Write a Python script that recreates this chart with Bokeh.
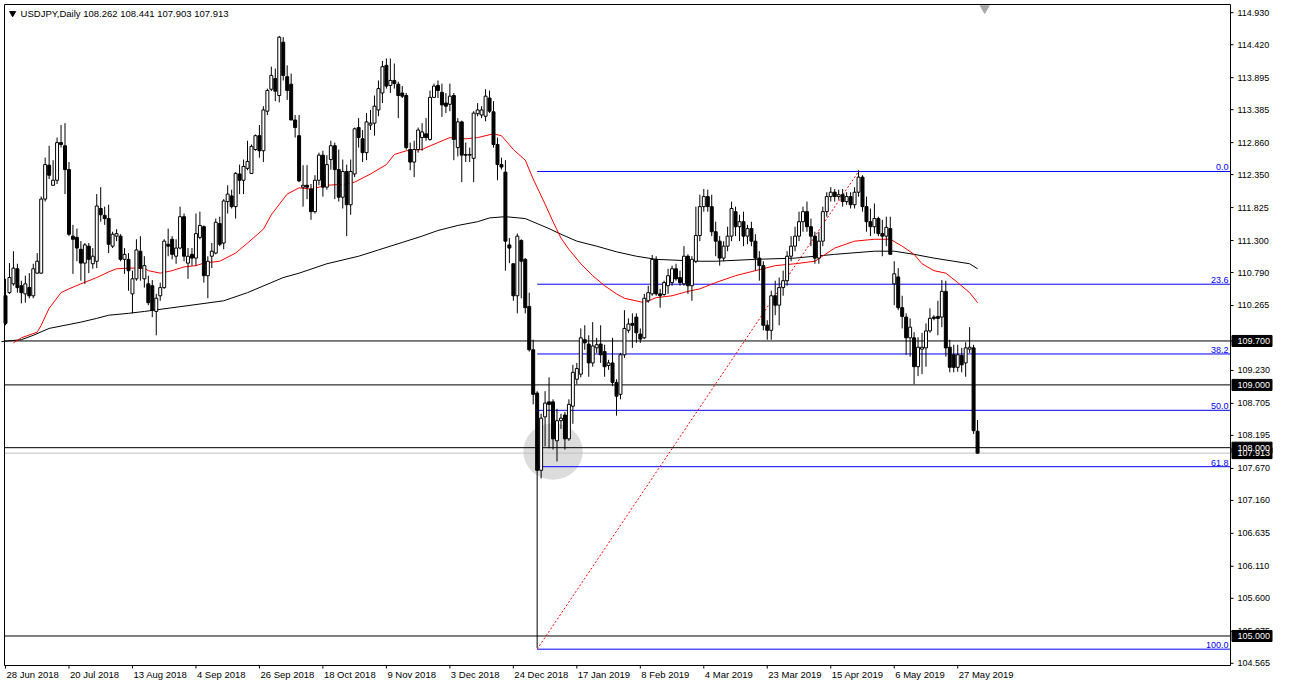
from bokeh.plotting import figure
from bokeh.models import Range1d
from bokeh.core.properties import value
from bokeh.embed import file_html
from bokeh.resources import INLINE

# ---------------- data (USDJPY daily) ----------------
opens = [
    110.42, 110.47, 110.61, 110.85, 110.58, 110.45, 110.55, 110.42, 110.78, 110.78,
    111.96, 112.50, 112.18, 112.26, 112.86, 112.81, 112.43, 111.37, 111.35, 111.16,
    110.94, 111.21, 110.93, 110.97, 111.81, 111.70, 111.65, 111.21, 111.37, 111.37,
    111.00, 111.00, 110.45, 110.69, 111.13, 110.69, 110.61, 110.58, 110.17, 110.42,
    110.55, 111.24, 111.32, 111.05, 111.18, 111.68, 110.94, 111.08, 111.02, 111.35,
    111.52, 110.74, 111.05, 111.10, 111.57, 111.26, 111.92, 112.01, 111.84, 112.36,
    112.26, 112.45, 112.37, 112.75, 112.97, 112.73, 113.36, 113.71, 113.88, 113.61,
    114.46, 113.91, 113.79, 113.22, 112.97, 112.15, 112.18, 112.12, 111.76, 112.26,
    112.66, 112.15, 112.59, 112.81, 112.43, 111.99, 112.40, 111.87, 112.36, 113.10,
    112.92, 112.70, 113.14, 113.17, 113.38, 113.65, 114.09, 113.77, 113.85, 113.79,
    113.65, 113.61, 112.75, 112.55, 112.75, 112.94, 113.00, 112.91, 113.58, 113.77,
    113.66, 113.49, 113.47, 113.61, 112.78, 113.19, 112.67, 112.66, 112.61, 113.32,
    113.30, 113.28, 113.57, 113.35, 112.83, 112.51, 112.39, 111.23, 110.93, 110.42,
    111.30, 111.00, 110.25, 109.56, 108.87, 107.64, 108.49, 108.73, 108.73, 108.11,
    108.43, 108.52, 108.14, 108.66, 109.09, 109.17, 109.72, 109.65, 109.35, 109.59,
    109.65, 109.53, 109.31, 109.35, 109.04, 108.85, 109.48, 109.87, 109.98, 110.08,
    109.81, 109.75, 110.34, 110.45, 111.00, 110.45, 110.44, 110.58, 110.63, 110.85,
    110.71, 110.61, 111.05, 110.58, 110.97, 111.38, 111.84, 112.00, 111.84, 111.44,
    111.29, 111.02, 111.21, 111.37, 111.76, 111.52, 111.60, 111.37, 111.49, 111.29,
    111.02, 110.90, 109.95, 109.87, 110.42, 110.27, 110.55, 110.66, 111.05, 111.21,
    111.37, 111.60, 111.76, 111.52, 111.37, 111.02, 111.29, 111.76, 112.00, 112.07,
    112.00, 112.03, 111.92, 112.00, 111.87, 112.07, 112.31, 111.84, 111.60, 111.52,
    111.65, 111.41, 111.37, 111.49, 110.61, 110.72, 110.23, 110.08, 109.75, 109.75,
    109.29, 109.57, 109.59, 109.86, 110.08, 110.09, 110.08, 110.49, 109.60, 109.48,
    109.28, 109.47, 109.35, 109.57, 109.59, 108.262,
]
highs = [
    110.69, 110.94, 111.13, 110.93, 110.66, 110.74, 110.78, 110.93, 111.10, 112.00,
    112.62, 112.81, 112.58, 112.94, 113.14, 113.17, 112.55, 111.55, 111.49, 111.29,
    111.26, 111.26, 111.18, 112.04, 112.15, 111.84, 111.87, 111.44, 111.48, 111.40,
    111.18, 111.10, 110.82, 111.32, 111.37, 111.05, 110.74, 110.67, 110.45, 110.63,
    111.32, 111.49, 111.37, 111.32, 111.84, 111.73, 111.18, 111.18, 111.73, 111.76,
    111.54, 111.05, 111.26, 111.65, 111.68, 111.96, 112.18, 112.11, 112.39, 112.51,
    112.59, 112.89, 112.83, 112.99, 113.14, 113.44, 113.72, 114.07, 114.04, 114.56,
    114.54, 114.09, 113.96, 113.30, 113.30, 112.50, 112.50, 112.20, 112.34, 112.70,
    112.73, 112.66, 112.89, 112.86, 112.75, 112.59, 112.51, 112.59, 113.10, 113.25,
    113.06, 113.33, 113.38, 113.61, 113.85, 114.16, 114.20, 114.20, 114.12, 113.83,
    113.76, 113.65, 112.86, 112.89, 113.10, 113.17, 113.25, 113.69, 113.80, 113.85,
    113.80, 113.65, 113.80, 113.65, 113.25, 113.21, 112.86, 112.78, 113.36, 113.49,
    113.44, 113.71, 113.69, 113.52, 112.94, 112.62, 112.58, 111.34, 110.93, 111.41,
    111.32, 111.02, 110.47, 109.72, 108.90, 108.54, 108.90, 109.12, 108.77, 108.62,
    108.54, 108.57, 108.77, 109.32, 109.35, 109.90, 109.95, 109.79, 110.00, 109.75,
    109.95, 109.64, 109.40, 109.75, 109.09, 109.51, 110.19, 110.06, 110.14, 110.14,
    109.90, 110.45, 110.58, 111.07, 111.05, 110.53, 110.66, 110.85, 110.90, 110.93,
    110.82, 111.21, 111.08, 111.05, 111.84, 112.03, 112.12, 112.11, 112.03, 111.60,
    111.37, 111.29, 111.52, 111.92, 111.84, 111.71, 111.76, 111.55, 111.60, 111.40,
    111.13, 110.97, 110.03, 110.50, 110.66, 110.71, 110.82, 111.13, 111.37, 111.52,
    111.76, 111.84, 111.92, 111.65, 111.44, 111.44, 111.84, 112.07, 112.15, 112.12,
    112.11, 112.12, 112.07, 112.07, 112.15, 112.42, 112.34, 112.00, 111.81, 111.89,
    111.68, 111.63, 111.68, 111.68, 110.97, 110.86, 110.42, 110.14, 110.06, 109.84,
    109.76, 109.83, 109.98, 110.22, 110.11, 110.34, 110.67, 110.66, 109.72, 109.64,
    109.64, 109.59, 109.68, 109.92, 109.64, 108.441,
]
lows = [
    109.95, 110.45, 110.58, 110.47, 110.30, 110.31, 110.38, 110.38, 110.77, 110.77,
    111.92, 112.28, 112.18, 112.20, 112.78, 112.04, 111.37, 110.77, 110.97, 110.66,
    110.61, 110.78, 110.85, 110.86, 111.60, 111.55, 111.10, 111.18, 111.29, 110.97,
    110.77, 110.50, 110.14, 110.66, 110.66, 110.55, 110.27, 110.08, 109.79, 110.34,
    110.53, 111.05, 111.00, 110.93, 111.16, 110.97, 110.69, 110.90, 110.90, 111.32,
    110.63, 110.38, 110.86, 111.08, 111.21, 111.16, 111.73, 111.81, 111.65, 112.04,
    112.04, 112.42, 112.36, 112.73, 112.62, 112.55, 113.30, 113.68, 113.52, 113.50,
    113.85, 113.54, 113.22, 112.94, 112.23, 111.84, 111.96, 111.63, 111.73, 112.18,
    112.00, 112.11, 112.43, 111.96, 111.92, 111.81, 111.37, 111.71, 112.31, 112.78,
    112.55, 112.58, 113.06, 112.97, 113.28, 113.49, 113.72, 113.65, 113.72, 113.25,
    113.57, 112.75, 112.42, 112.31, 112.70, 112.73, 112.89, 112.89, 113.57, 113.57,
    113.27, 113.33, 113.36, 112.58, 112.64, 112.23, 112.55, 112.55, 112.23, 113.28,
    113.25, 113.20, 113.33, 112.78, 112.26, 112.43, 110.82, 110.94, 110.34, 110.14,
    110.38, 110.14, 109.53, 108.69, 104.81, 107.51, 108.02, 107.99, 107.97, 107.78,
    108.30, 107.97, 108.11, 108.38, 109.01, 109.12, 109.56, 109.13, 109.29, 109.51,
    109.35, 109.13, 109.24, 108.98, 108.51, 108.77, 109.43, 109.83, 109.59, 109.67,
    109.67, 109.73, 110.31, 110.42, 110.42, 110.23, 110.42, 110.45, 110.58, 110.66,
    110.58, 110.58, 110.45, 110.34, 110.94, 111.29, 111.76, 111.76, 111.37, 111.05,
    110.90, 110.97, 111.13, 111.29, 111.37, 111.29, 111.21, 111.24, 111.21, 110.82,
    110.66, 109.87, 109.72, 109.72, 110.11, 109.95, 110.42, 110.58, 110.97, 111.13,
    111.29, 111.44, 111.44, 111.21, 110.93, 110.93, 111.21, 111.68, 111.92, 111.92,
    111.95, 111.84, 111.87, 111.81, 111.81, 112.00, 111.76, 111.44, 111.37, 111.41,
    111.37, 111.05, 111.21, 111.08, 110.27, 110.19, 109.90, 109.48, 109.45, 109.01,
    109.14, 109.17, 109.29, 109.83, 110.03, 109.79, 109.92, 109.45, 109.20, 109.20,
    109.21, 109.20, 109.13, 109.51, 108.22, 107.903,
]
closes = [
    109.98, 110.71, 110.86, 110.55, 110.47, 110.61, 110.42, 110.85, 110.97, 111.96,
    112.51, 112.34, 112.26, 112.86, 112.83, 112.43, 111.40, 111.32, 111.18, 110.94,
    111.23, 111.00, 111.05, 111.85, 111.71, 111.65, 111.24, 111.40, 111.41, 111.00,
    111.08, 110.82, 110.69, 111.15, 110.86, 110.90, 110.31, 110.19, 110.38, 110.55,
    111.29, 111.21, 111.08, 111.18, 111.68, 111.05, 111.05, 111.02, 111.41, 111.54,
    110.74, 110.97, 111.13, 111.59, 111.24, 111.93, 112.04, 111.84, 112.37, 112.26,
    112.48, 112.56, 112.80, 112.97, 112.73, 113.38, 113.69, 113.93, 113.68, 114.54,
    113.93, 113.69, 113.22, 113.10, 112.25, 112.18, 112.15, 111.76, 112.26, 112.66,
    112.15, 112.51, 112.81, 112.43, 111.99, 112.40, 111.87, 112.40, 113.08, 112.94,
    112.70, 113.19, 113.17, 113.44, 113.72, 114.07, 113.76, 113.85, 113.80, 113.61,
    113.60, 112.78, 112.55, 112.75, 113.06, 113.03, 112.94, 113.58, 113.76, 113.69,
    113.46, 113.44, 113.60, 112.91, 113.19, 112.66, 112.66, 112.67, 113.33, 113.38,
    113.38, 113.60, 113.36, 112.83, 112.51, 112.47, 111.29, 111.18, 110.42, 111.37,
    110.97, 110.23, 109.56, 108.85, 107.64, 108.47, 108.71, 108.69, 108.14, 108.43,
    108.47, 108.14, 108.69, 109.20, 109.26, 109.75, 109.67, 109.35, 109.62, 109.64,
    109.48, 109.29, 109.35, 109.04, 108.82, 109.48, 109.90, 109.97, 109.95, 109.83,
    109.73, 110.38, 110.47, 111.00, 110.45, 110.42, 110.63, 110.74, 110.85, 110.69,
    110.63, 111.05, 110.58, 111.00, 111.38, 111.84, 112.00, 111.84, 111.44, 111.29,
    111.02, 111.21, 111.37, 111.81, 111.52, 111.60, 111.37, 111.49, 111.29, 111.02,
    110.90, 109.95, 109.87, 110.42, 110.27, 110.55, 110.66, 111.05, 111.21, 111.37,
    111.60, 111.76, 111.52, 111.37, 111.02, 111.29, 111.76, 112.00, 112.07, 112.00,
    112.03, 111.92, 112.00, 111.87, 112.07, 112.31, 111.84, 111.60, 111.52, 111.65,
    111.41, 111.37, 111.51, 111.08, 110.77, 110.23, 110.09, 109.75, 109.92, 109.29,
    109.60, 109.60, 109.86, 110.06, 110.06, 110.06, 110.49, 109.59, 109.28, 109.28,
    109.48, 109.32, 109.59, 109.60, 108.27, 107.913,
]

# moving averages (bar index, price)
ma_red_idx = [2, 4, 8, 9, 11, 14, 16, 19, 23, 26, 28, 31, 35, 36, 39, 42, 45, 48, 50, 54,
              58, 61, 65, 67, 70, 71, 74, 77, 81, 86, 88, 92, 96, 98, 101, 105, 106, 109, 112, 116,
              119, 123, 125, 128, 131, 133, 136, 138, 140, 142, 145, 148, 151, 154, 156, 161, 164, 168, 172, 175,
              179, 184, 189, 194, 199, 204, 209, 214, 219, 223, 226, 229, 231, 234, 237, 240, 243, 245]
ma_red_val = [109.67, 109.75, 109.84, 109.95, 110.22, 110.47, 110.53, 110.61, 110.71, 110.80,
              110.85, 110.86, 110.86, 110.82, 110.78, 110.82, 110.88, 110.90, 110.94, 110.97,
              111.10, 111.26, 111.48, 111.71, 111.96, 112.04, 112.14, 112.12, 112.18, 112.20,
              112.23, 112.36, 112.51, 112.67, 112.73, 112.75, 112.78, 112.86, 112.94, 112.92,
              112.94, 113.00, 112.97, 112.75, 112.58, 112.28, 111.88, 111.60, 111.34, 111.16,
              110.93, 110.74, 110.58, 110.45, 110.38, 110.31, 110.39, 110.42, 110.49, 110.53,
              110.63, 110.74, 110.82, 110.90, 110.93, 110.97, 111.18, 111.29, 111.32, 111.32,
              111.21, 111.08, 110.93, 110.82, 110.78, 110.63, 110.47, 110.31]
ma_black_idx = [-1, 4, 7, 11, 15, 19, 23, 26, 31, 35, 48, 55, 61, 67, 70, 74, 81, 89, 94, 100,
                105, 109, 114, 119, 122, 126, 131, 134, 137, 140, 144, 149, 154, 159, 164, 175, 179, 189, 199, 209,
                219, 224, 229, 234, 239, 243, 245]
ma_black_val = [109.69, 109.72, 109.79, 109.90, 109.95, 110.00, 110.06, 110.11, 110.14, 110.17,
                110.28, 110.34, 110.47, 110.63, 110.71, 110.78, 110.93, 111.05, 111.15, 111.27,
                111.37, 111.46, 111.54, 111.60, 111.66, 111.68, 111.65, 111.57, 111.49, 111.40,
                111.29, 111.21, 111.12, 111.05, 111.00, 110.97, 110.97, 111.00, 111.02, 111.08,
                111.13, 111.13, 111.08, 111.02, 110.97, 110.93, 110.85]

date_idx = [0, 16, 32, 48, 64, 80, 96, 112, 128, 144, 160, 176, 192, 208, 224, 240]
date_labels = ["28 Jun 2018", "20 Jul 2018", "13 Aug 2018", "4 Sep 2018", "26 Sep 2018",
               "18 Oct 2018", "9 Nov 2018", "3 Dec 2018", "24 Dec 2018", "17 Jan 2019",
               "8 Feb 2019", "4 Mar 2019", "23 Mar 2019", "15 Apr 2019", "6 May 2019", "27 May 2019"]
price_ticks = [114.930, 114.420, 113.895, 113.385, 112.860, 112.350, 111.825, 111.300, 110.790,
               110.265, 109.700, 109.230, 108.705, 108.195, 107.670, 107.160, 106.635, 106.110,
               105.600, 105.075, 104.565]
h_levels = [109.700, 109.000, 108.000, 105.000]
last_price = 107.913
fib_start, fib_end = 134, 215          # bar indices of the swing low / high
fib_low, fib_high = 104.79, 112.40
fib_levels = [0.0, 23.6, 38.2, 50.0, 61.8, 100.0]
header = "USDJPY,Daily  108.262 108.441 107.903 107.913"

# ---------------- geometry of the MT4-like window ----------------
FONT = "Liberation Sans"
W, H = 1273, 682
PAD_L, PAD_T = 4, 4                     # px before the chart border
AXIS_W, DATE_H = 43, 17                 # px of the price scale / time scale
X_LEFT, X_EDGE = -0.25, 308.75          # chart area in bar units
Y_BOT, Y_TOP = 104.53, 115.06           # chart area in price units
CHART_W = W - PAD_L - AXIS_W
CHART_H = H - PAD_T - DATE_H
sx = CHART_W / (X_EDGE - X_LEFT)        # px per bar
sy = CHART_H / (Y_TOP - Y_BOT)          # px per price unit
x_start = X_LEFT - PAD_L / sx
y_end = Y_TOP + PAD_T / sy
x_rng = Range1d(x_start, x_start + W / sx)
y_rng = Range1d(y_end - H / sy, y_end)

p = figure(width=W, height=H, x_range=x_rng, y_range=y_rng,
           output_backend="svg", toolbar_location=None,
           x_axis_location=None, y_axis_location=None,
           min_border_left=0, min_border_top=0, min_border_right=0, min_border_bottom=0)
p.xgrid.visible = False
p.ygrid.visible = False
p.outline_line_color = None
p.background_fill_color = "white"
p.border_fill_color = "white"

# highlight ellipse around January low
p.ellipse(x=[138], y=[107.94], width=15, height=0.9, fill_color="#dcdcdc", line_color=None)

# horizontal levels
nl = len(h_levels)
p.segment(x0=[X_LEFT] * nl, y0=h_levels, x1=[X_EDGE] * nl, y1=h_levels, line_color="black", line_width=1)
p.segment(x0=[X_LEFT], y0=[last_price], x1=[X_EDGE], y1=[last_price], line_color="#c0c0c0", line_width=1)

# fibonacci
rng = fib_high - fib_low
fib_prices = [fib_high - lv / 100.0 * rng for lv in fib_levels]
nf = len(fib_prices)
p.segment(x0=[fib_start] * nf, y0=fib_prices, x1=[X_EDGE] * nf, y1=fib_prices,
          line_color="#0000ff", line_width=1)
p.line([fib_start, fib_end], [fib_low, fib_high], line_color="red", line_width=1, line_dash="2 2")
p.text(x=[X_EDGE] * nf, y=fib_prices, text=[f"{lv:.1f}" for lv in fib_levels], x_offset=-2, y_offset=-1,
       text_align="right", text_baseline="bottom", text_color="#0000ff",
       text_font=value(FONT), text_font_size="9px")

# moving averages
p.line(ma_black_idx, ma_black_val, line_color="black", line_width=1)
p.line(ma_red_idx, ma_red_val, line_color="red", line_width=1)

# candles
n = len(opens)
hi = [max(h, o, c) for h, o, c in zip(highs, opens, closes)]
lo = [min(l, o, c) for l, o, c in zip(lows, opens, closes)]
top = [max(o, c) for o, c in zip(opens, closes)]
bot = [min(o, c) for o, c in zip(opens, closes)]
fill = ["white" if c >= o else "black" for o, c in zip(opens, closes)]
idx = list(range(n))
p.segment(x0=idx, y0=lo, x1=idx, y1=hi, line_color="black", line_width=1)
p.vbar(x=idx, top=top, bottom=bot, width=0.75, fill_color=fill, line_color="black", line_width=1)

# chart border (left, top, right = price axis line, bottom = time axis line)
p.segment(x0=[X_LEFT, X_LEFT, X_EDGE, X_LEFT], y0=[Y_BOT, Y_TOP, Y_BOT, Y_BOT],
          x1=[X_LEFT, X_EDGE, X_EDGE, X_EDGE], y1=[Y_TOP, Y_TOP, Y_TOP, Y_BOT],
          line_color="black", line_width=1)

# header
p.scatter(x=[1.8], y=[114.92], marker="inverted_triangle", size=6, color="black")
p.text(x=[3.8], y=[114.92], text=[header], text_baseline="middle", text_align="left",
       text_font=value(FONT), text_font_size="9.5px", text_color="black")

# chart shift marker
p.scatter(x=[246.8], y=[115.0], marker="inverted_triangle", size=9, color="#a8a8a8")

# price scale (right)
npt = len(price_ticks)
p.segment(x0=[X_EDGE] * npt, y0=price_ticks, x1=[X_EDGE + 3 / sx] * npt, y1=price_ticks,
          line_color="black", line_width=1)
p.text(x=[X_EDGE] * npt, y=price_ticks, text=[f"{v:.3f}" for v in price_ticks], x_offset=7,
       text_align="left", text_baseline="middle", text_font=value(FONT), text_font_size="9px",
       text_color="black")

# price boxes on the scale
box_prices = [last_price] + h_levels
nb = len(box_prices)
p.rect(x=[X_EDGE + 21.5 / sx] * nb, y=box_prices, width=40, height=11, width_units="screen",
       height_units="screen", fill_color="black", line_color="black")
p.text(x=[X_EDGE] * nb, y=box_prices, text=[f"{v:.3f}" for v in box_prices], x_offset=7,
       text_align="left", text_baseline="middle", text_font=value(FONT), text_font_size="9px",
       text_color="white")

# time scale (bottom)
nd = len(date_idx)
p.segment(x0=date_idx, y0=[Y_BOT] * nd, x1=date_idx, y1=[Y_BOT - 3 / sy] * nd,
          line_color="black", line_width=1)
p.text(x=date_idx, y=[Y_BOT - 3 / sy] * nd, text=date_labels, x_offset=1,
       text_align="left", text_baseline="top", text_font=value(FONT), text_font_size="9.5px",
       text_color="black")

open("out.html", "w").write(file_html(p, INLINE))
